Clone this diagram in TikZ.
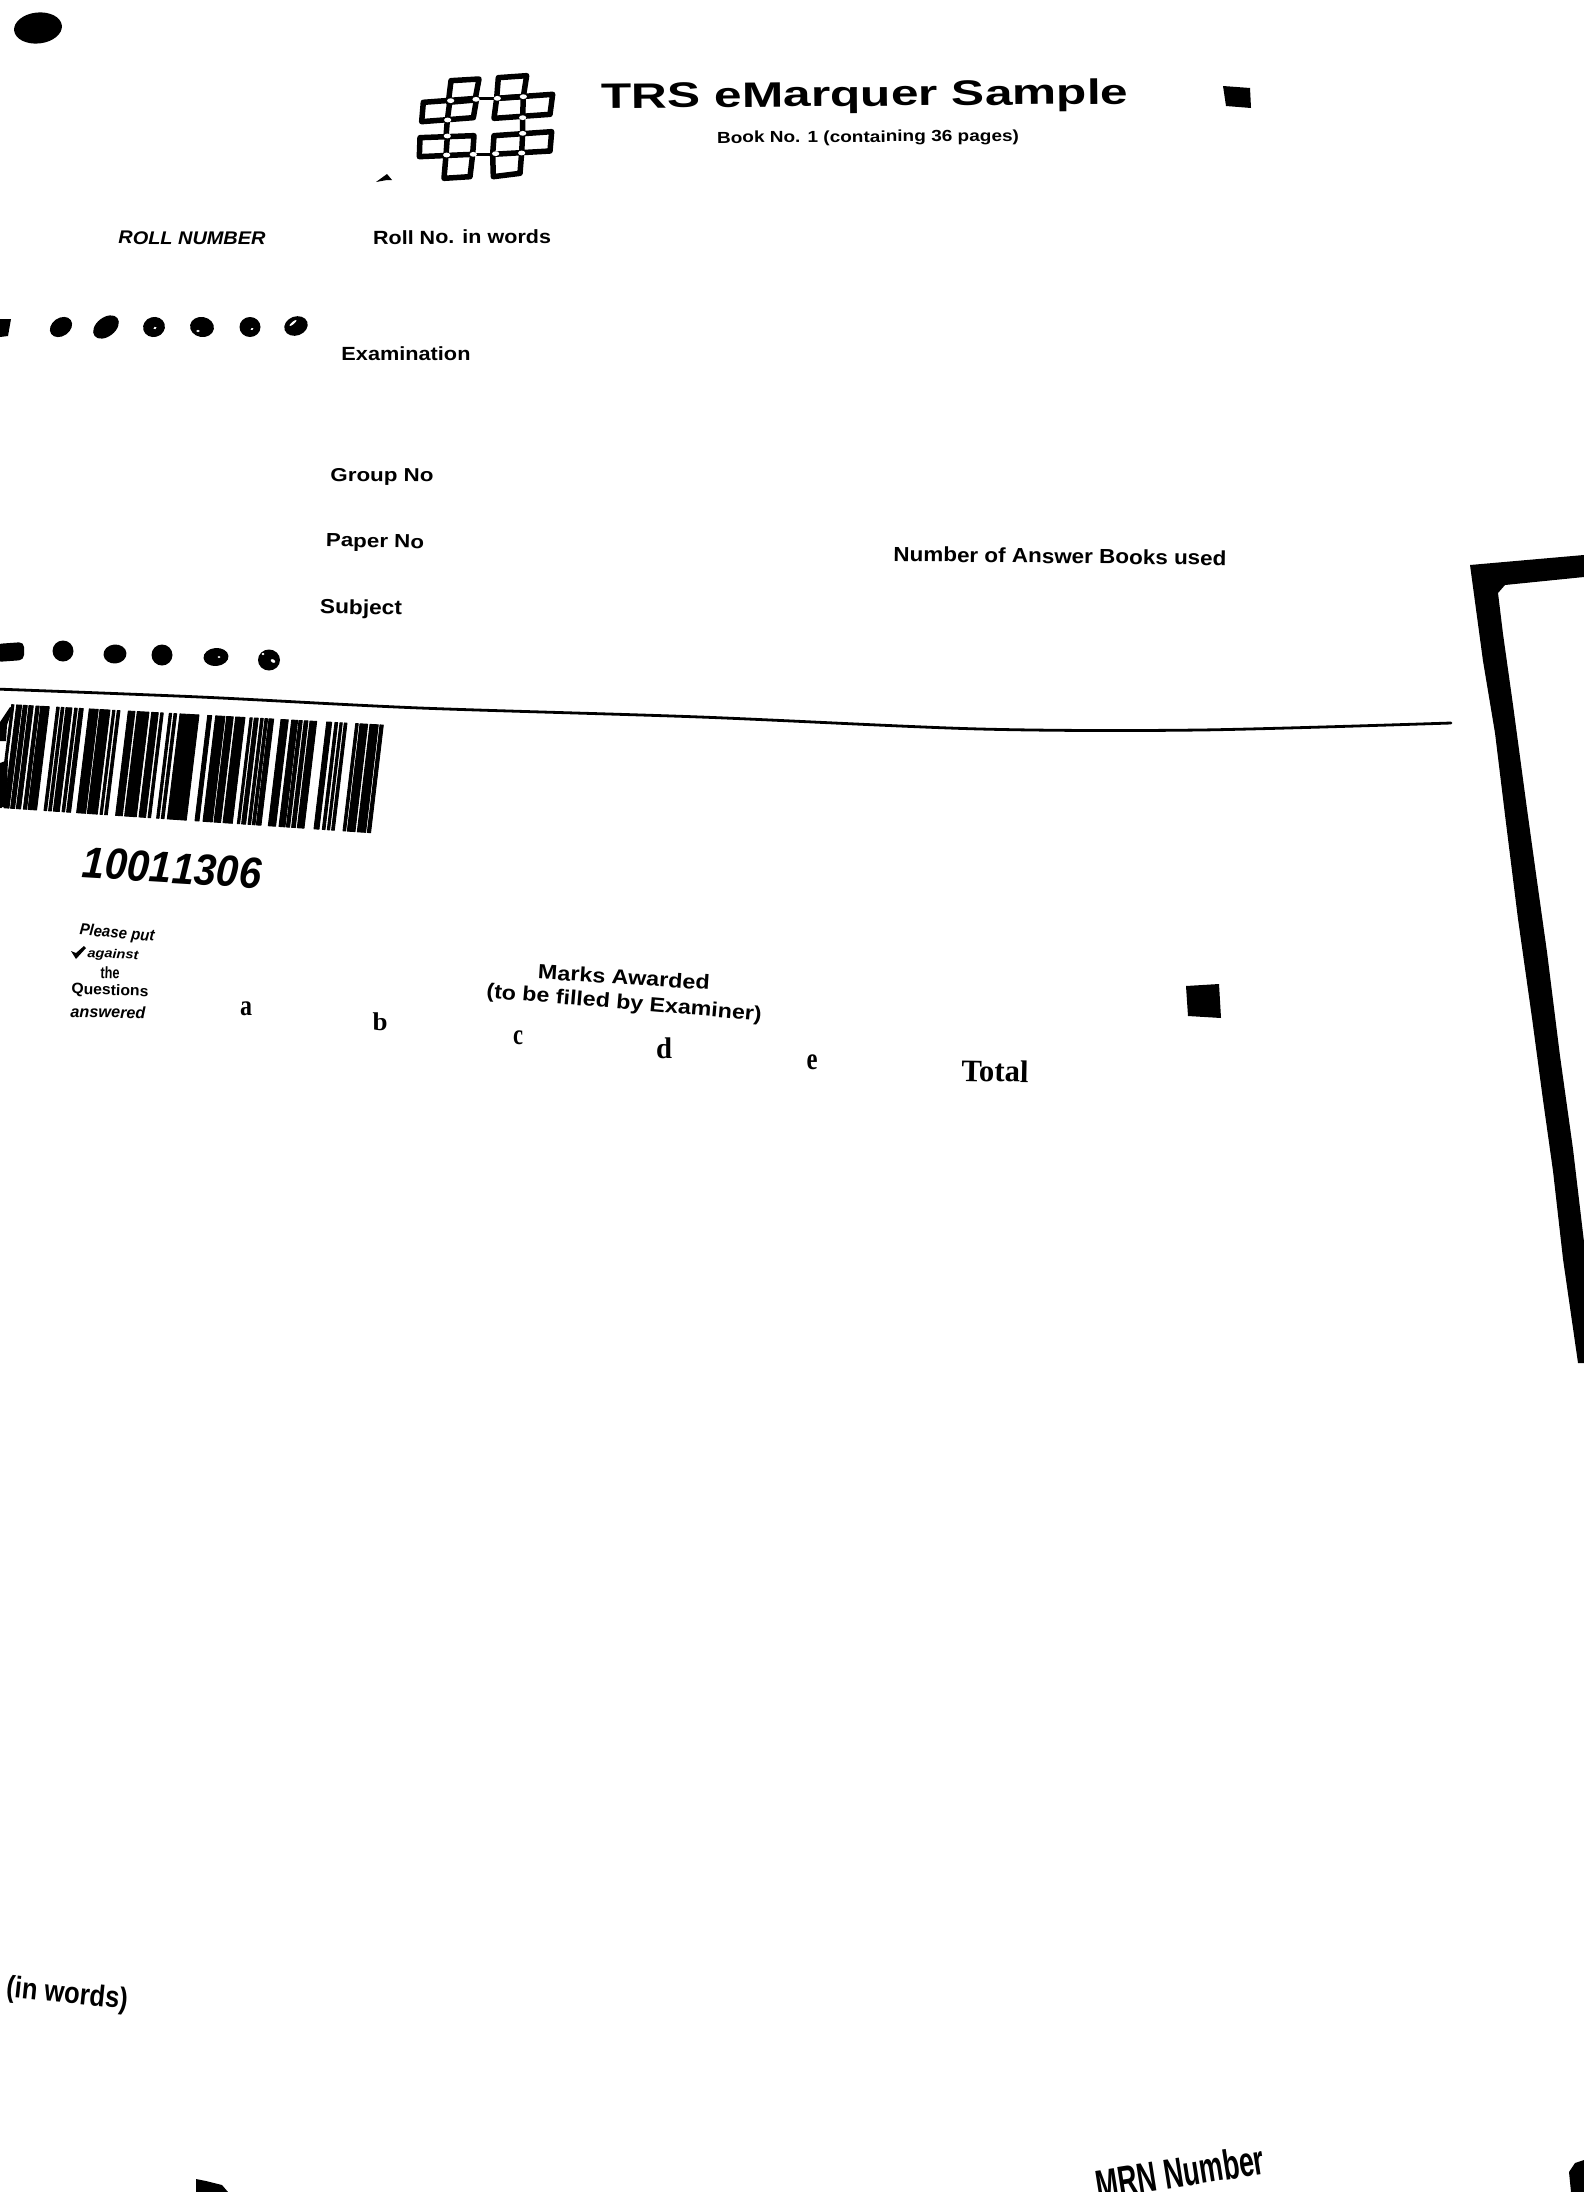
\documentclass[tikz,border=0pt]{standalone}
\usepackage{graphicx}
\usepackage{fontspec}
\setmainfont{Liberation Sans}
\newfontfamily\serifb{Liberation Serif}[BoldFont={Liberation Serif Bold}]
\newcommand{\lab}[8]{\node[inner sep=0pt,outer sep=0pt,rotate=#4] (#1) at (#2,#3) {\resizebox*{#5pt}{#6pt}{#7#8}};}
\newcommand{\blob}[5]{\fill[shift={(#1,#2)},rotate=#5] (0,0) ellipse [x radius=#3pt,y radius=#4pt];}
\newcommand{\hole}[5]{\fill[white,shift={(#1,#2)},rotate=#5] (0,0) ellipse [x radius=#3pt,y radius=#4pt];}
\newcommand{\lgp}[2]{({370+#1/3},{65+#2/3})}
\begin{document}
\begin{tikzpicture}[x=1pt,y=-1pt,line join=round]
\useasboundingbox (0,0) rectangle (1584,2192);
\clip (0,0) rectangle (1584,2192);
\fill[white] (0,0) rectangle (1584,2192);
% corner marks and squares
\blob{38}{28}{24}{15.5}{6}
\fill (1223,86)--(1250,88)--(1251,108)--(1226,106)--cycle;
\fill (1186,986)--(1219,984)--(1221,1018)--(1188,1016)--cycle;
\fill (376,182)--(387,174)--(392,180)--(387,180)--cycle;
\fill (196,2179)--(206,2181)--(222,2185)--(228,2192)--(196,2192)--cycle;
\fill (1584,2160)--(1575,2163)--(1569,2172)--(1571,2192)--(1584,2192)--cycle;
% logo
\begin{scope}[line width=5.5pt]
\draw \lgp{243}{47}--\lgp{327}{42}--\lgp{315}{105}--\lgp{235}{112}--cycle;
\draw \lgp{160}{112}--\lgp{320}{100}--\lgp{310}{158}--\lgp{155}{170}--cycle;
\draw \lgp{240}{105}--\lgp{232}{165}--\lgp{228}{215};
\draw \lgp{385}{38}--\lgp{470}{32}--\lgp{460}{95}--\lgp{380}{100}--cycle;
\draw \lgp{380}{100}--\lgp{548}{88}--\lgp{540}{148}--\lgp{372}{160}--cycle;
\draw[line width=3.5pt] \lgp{320}{100}--\lgp{380}{100};
\draw \lgp{460}{95}--\lgp{458}{155}--\lgp{458}{205};
\draw \lgp{150}{218}--\lgp{312}{212}--\lgp{308}{268}--\lgp{148}{275}--cycle;
\draw \lgp{232}{215}--\lgp{228}{270}--\lgp{222}{340}--\lgp{300}{335}--\lgp{308}{268};
\draw \lgp{372}{212}--\lgp{545}{200}--\lgp{540}{258}--\lgp{368}{268}--cycle;
\draw \lgp{458}{205}--\lgp{455}{262}--\lgp{450}{325}--\lgp{370}{335}--\lgp{368}{268};
\draw[line width=3.5pt] \lgp{368}{268}--\lgp{308}{268};
\end{scope}
\foreach \a/\b in {242/107,318/103,382/100,460/95,458/158,233/165,232/213,458/205,230/270,310/268,377/266,455/264}
  {\fill[white] ({370+\a/3},{65+\b/3}) ellipse [x radius=3.6pt,y radius=2.4pt];}
% texts, top
\lab{title}{865}{97}{0.5}{527}{33}{\bfseries}{TRS eMarquer Sample}
\lab{book}{868}{138}{0.4}{302}{15}{\bfseries}{Book No. 1 (containing 36 pages)}
\lab{roll}{192}{238}{-0.3}{147}{13}{\bfseries\itshape}{ROLL NUMBER}
\lab{rollw}{462}{237}{0.3}{178}{14}{\bfseries}{Roll No. in words}
\lab{exam}{406}{354}{0}{129}{14}{\bfseries}{Examination}
\lab{group}{382}{477}{-0.5}{103}{17}{\bfseries}{Group No}
\lab{paper}{375}{543}{-1}{98}{17}{\bfseries}{Paper No}
\lab{subj}{361}{609}{-1}{82}{19}{\bfseries}{Subject}
\lab{nabu}{1060}{556}{-0.7}{333}{15}{\bfseries}{Number of Answer Books used}
% dot rows
\fill (0,319)--(11,319)--(8,336)--(0,337)--cycle;
\blob{61}{327}{12}{9}{35}
\blob{106}{327}{14.5}{9.5}{38}
\blob{154}{327}{11}{10}{15}\hole{155}{328}{1.8}{1.2}{30}
\blob{202}{327}{12}{10}{-10}\hole{198}{331}{1.8}{1.2}{0}
\blob{250}{327}{10.5}{10}{0}\hole{252}{329}{1.5}{1}{30}
\blob{296}{326}{12}{9.5}{20}\hole{293}{323}{4.5}{1.2}{40}
\fill[rounded corners=5pt] (-4,644)--(24,642)--(24,660)--(-4,662)--cycle;
\blob{63}{651}{10.5}{10.5}{0}
\blob{115}{654}{11.5}{9.5}{5}
\blob{162}{655}{10.5}{10.5}{0}
\blob{216}{657}{12.5}{9}{5}\hole{219}{657}{1.5}{1}{0}
\blob{269}{660}{11}{10.5}{0}\hole{273}{661}{2.5}{1.6}{-30}\hole{263}{654}{1.5}{1.2}{0}
% rule
\draw[line width=2.8pt,line cap=round] plot[smooth] coordinates {(-5,689)(200,697)(420,708)(700,717)(980,729)(1200,730)(1451,723)};
% barcode
\foreach \a/\b in {11.7/14,16.7/21.7,23.3/27.3,29/33.3,36/39.3,40.7/49.3,
 56.7/59.3,61.3/64,66/72,74.7/77.3,79.3/83.3,
 89.3/98.3,100/110,112.7/115,117.3/120,
 128.3/135,137.3/149,151.7/158.3,160.7/163.3,
 169.3/171.7,174/176.7,180/199,
 207.7/211.7,215.7/225,226.7/233.3,235.7/245,
 250/252.3,254.3/258.3,260.7/263.3,265/267.7,269/273.7,
 281/288.3,291.7/297.7,299/302.3,304.3/308,310/316.7,
 326.7/331.7,335/337.7,340/342.3,344.3/347,
 355.7/358.3,360/367.7,370/378.3,380/383.3}
 {\filldraw[line width=0.9pt] (\a,{704+0.055*\a})--(\b,{704+0.055*\b})--({\b-12.7},{807.5+0.068*(\b-12.7)})--({\a-12.7},{807.5+0.068*(\a-12.7)})--cycle;}
\fill (0,722)--(10,707)--(13,708)--(7,725)--(6,741)--(0,741)--cycle;
\fill (0,763)--(8,760)--(6,807)--(0,807)--cycle;
\lab{num}{172}{868}{-3.5}{179}{31}{\bfseries\itshape\addfontfeature{Kerning=Off}}{10011306}
% marks table
\lab{please}{117}{934}{-5}{75}{15}{\bfseries\itshape}{Please put}
\fill (71,951)--(76,953)--(84,946)--(86,948)--(76,959)--cycle;
\lab{against}{113}{955}{-3}{51}{12}{\bfseries\itshape}{against}
\lab{the}{110}{973}{-2}{19}{12}{\bfseries}{the}
\lab{quest}{110}{991}{-2}{77}{14}{\bfseries}{Questions}
\lab{answ}{108}{1012}{-1}{75}{12}{\bfseries\itshape}{answered}
\lab{ma}{246}{1009}{0}{12}{14}{\serifb\bfseries}{a}
\lab{mb}{380}{1022}{0}{15}{18}{\serifb\bfseries}{b}
\lab{mc}{518}{1038}{0}{10}{14}{\serifb\bfseries}{c}
\lab{md}{664}{1048}{0}{16}{21}{\serifb\bfseries}{d}
\lab{me}{812}{1062}{0}{11}{15}{\serifb\bfseries}{e}
\lab{total}{995}{1071}{-1}{67}{22}{\serifb\bfseries}{Total}
\lab{marks}{624}{977}{-3.7}{172}{15}{\bfseries}{Marks Awarded}
\lab{filled}{624}{1004}{-4.8}{276}{19}{\bfseries}{(to be filled by Examiner)}
\lab{inw}{67}{1995}{-6}{122}{28}{\bfseries}{(in words)}
\lab{mrn}{1180}{2172}{9}{170}{31}{\bfseries}{MRN Number}
% frame
\fill (1470,565)--(1584,555)--(1584,577)--(1505,585)--(1498,593)--(1503,634)--(1513,705)--(1527,809)--(1537,881)--(1547,952)--(1560,1056)--(1573,1149)--(1584,1242)--(1584,1363)--(1578,1363)--(1563,1259)--(1553,1171)--(1543,1100)--(1532,1018)--(1518,919)--(1505,815)--(1495,733)--(1483,661)--cycle;
\end{tikzpicture}
\end{document}
